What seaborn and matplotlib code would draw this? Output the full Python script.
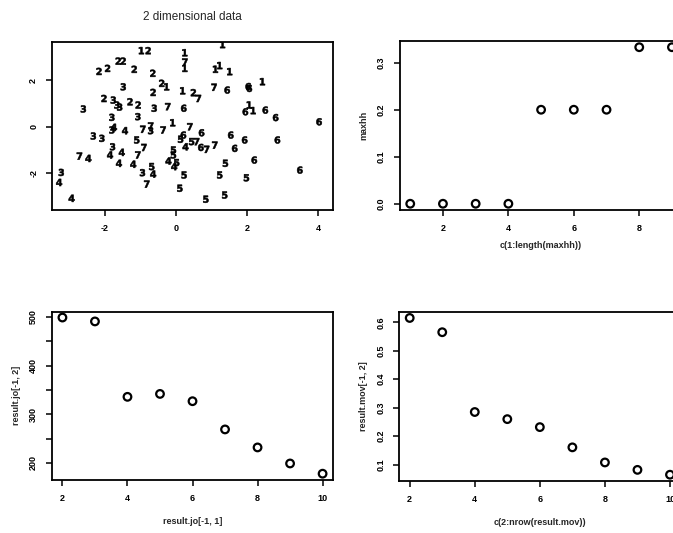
import numpy as np
import pandas as pd
import matplotlib
matplotlib.use("Agg")
import matplotlib.pyplot as plt
import seaborn as sns

# =========================
# DATA
# =========================

# 2 dimensional data: cluster labels drawn as text
lab_digit = ["1", "2", "1", "7", "1", "1", "1", "1", "1", "2", "2", "2", "2", "2", "2",
             "3", "2", "1", "2", "1", "2", "7", "7", "6", "6", "6", "1", "2", "3", "3",
             "3", "2", "2", "3", "3", "7", "6", "1", "6", "1", "6", "6", "6", "3", "3",
             "1", "3", "4", "4", "7", "3", "7", "7", "7", "6", "3", "3", "5", "7", "6",
             "5", "4", "5", "7", "6", "7", "7", "6", "6", "6", "6", "3", "4", "4", "7",
             "4", "7", "4", "4", "3", "5", "4", "7", "5", "5", "4", "5", "4", "5", "5",
             "5", "5", "5", "5", "5", "6", "6", "3", "4", "4"]
lab_x = [-0.97, -0.78, 0.25, 0.25, 0.25, 1.31, 1.11, 1.23, 1.51, -2.16, -1.92, -1.62, -1.48, -1.17, -0.65,
         -1.48, -0.40, -0.26, -0.64, 0.19, 0.49, 0.63, 1.07, 1.44, 2.03, 2.06, 2.43, -2.02, -1.76, -1.66,
         -1.58, -1.29, -1.06, -2.60, -0.61, -0.23, 0.22, 2.06, 1.95, 2.17, 2.51, 2.80, 4.02, -1.80, -1.07,
         -0.09, -1.80, -1.74, -1.43, -0.93, -0.71, -0.71, -0.36, 0.39, 0.72, -2.32, -2.08, -1.10, -0.90, 0.21,
         0.13, 0.27, 0.44, 0.58, 0.70, 0.86, 1.09, 1.54, 1.93, 2.85, 1.65, -1.78, -1.85, -1.52, -2.71,
         -2.46, -1.07, -1.60, -1.20, -0.94, -0.68, -0.64, -0.82, -0.07, -0.07, -0.21, 0.02, -0.05, 0.23, 0.11,
         0.84, 1.37, 1.23, 1.39, 1.98, 2.20, 3.48, -3.22, -3.28, -2.93]
lab_y = [3.26, 3.26, 3.17, 2.77, 2.50, 3.52, 2.46, 2.62, 2.36, 2.37, 2.50, 2.81, 2.81, 2.46, 2.29,
         1.71, 1.86, 1.71, 1.47, 1.54, 1.46, 1.21, 1.69, 1.57, 1.72, 1.64, 1.93, 1.21, 1.14, 0.93,
         0.84, 1.07, 0.93, 0.76, 0.79, 0.86, 0.79, 0.93, 0.64, 0.69, 0.71, 0.39, 0.21, 0.40, 0.43,
         0.17, -0.14, -0.03, -0.17, -0.11, -0.17, 0.03, -0.14, 0.00, -0.26, -0.40, -0.50, -0.57, -0.89, -0.36,
         -0.54, -0.86, -0.64, -0.64, -0.89, -0.97, -0.79, -0.36, -0.57, -0.57, -0.93, -0.86, -1.21, -1.10, -1.26,
         -1.36, -1.21, -1.57, -1.61, -1.97, -1.71, -2.03, -2.46, -1.00, -1.21, -1.47, -1.54, -1.71, -2.07, -2.64,
         -3.11, -2.93, -2.07, -1.57, -2.19, -1.43, -1.86, -1.96, -2.39, -3.07]

# maxhh
maxhh_x = [1, 2, 3, 4, 5, 6, 7, 8, 9]
maxhh = [0.0, 0.0, 0.0, 0.0, 0.2, 0.2, 0.2, 0.333, 0.333]

# result.jo
jo_x = [2, 3, 4, 5, 6, 7, 8, 9, 10]
jo_y = [499, 491, 336, 342, 327, 269, 232, 199, 178]

# result.mov
mov_x = [2, 3, 4, 5, 6, 7, 8, 9, 10]
mov_y = [0.615, 0.565, 0.285, 0.26, 0.232, 0.161, 0.108, 0.082, 0.065]

# =========================
# STYLE
# =========================

sns.set_style("ticks")
plt.rcParams["font.family"] = ["Liberation Sans", "DejaVu Sans"]
plt.rcParams["font.weight"] = "bold"
plt.rcParams["axes.labelweight"] = "bold"
plt.rcParams["axes.unicode_minus"] = False
plt.rcParams["axes.linewidth"] = 1.3
plt.rcParams["xtick.major.width"] = 1.1
plt.rcParams["ytick.major.width"] = 1.1
plt.rcParams["xtick.major.size"] = 4
plt.rcParams["ytick.major.size"] = 4
plt.rcParams["xtick.labelsize"] = 6.5
plt.rcParams["ytick.labelsize"] = 6.5
plt.rcParams["axes.labelsize"] = 6.5

fig = plt.figure(figsize=(6.73, 5.33), dpi=100)

ax1 = fig.add_axes([0.0773, 0.606, 0.4175, 0.3152])
ax2 = fig.add_axes([0.594, 0.606, 0.420, 0.3175])
ax3 = fig.add_axes([0.0773, 0.0994, 0.4175, 0.3158])
ax4 = fig.add_axes([0.5933, 0.0976, 0.4177, 0.3176])


def r_box(ax):
    for s in ax.spines.values():
        s.set_visible(True)
        s.set_color("black")
    ax.tick_params(direction="out", colors="black", pad=6)


def rot_y(ax):
    for t in ax.get_yticklabels():
        t.set_rotation(90)
        t.set_va("center")


# --- 2 dimensional data ---
df_lab = pd.DataFrame({"x": lab_x, "y": lab_y, "d": lab_digit})
sns.scatterplot(data=df_lab, x="x", y="y", style="d",
                markers={d: f"${d}$" for d in sorted(set(lab_digit))},
                color="black", s=26, linewidth=0.4, edgecolor="black",
                legend=False, ax=ax1)
ax1.set_xlim(-3.48, 4.41)
ax1.set_ylim(-3.57, 3.63)
ax1.set_xticks([-2, 0, 2, 4])
ax1.set_yticks([-2, 0, 2])
ax1.set_xlabel("")
ax1.set_ylabel("")
ax1.set_title("2 dimensional data", fontsize=8.5, fontweight="normal", pad=16)
r_box(ax1)
rot_y(ax1)

# --- maxhh ---
sns.scatterplot(x=maxhh_x, y=maxhh, marker="o", s=30, facecolor="none",
                edgecolor="black", linewidth=1.6, ax=ax2)
ax2.set_xlim(0.68, 9.32)
ax2.set_ylim(-0.0133, 0.3467)
ax2.set_xticks([2, 4, 6, 8])
ax2.set_yticks([0.0, 0.1, 0.2, 0.3])
ax2.set_yticklabels(["0.0", "0.1", "0.2", "0.3"])
ax2.set_xlabel("c(1:length(maxhh))", labelpad=6)
ax2.set_ylabel("maxhh", labelpad=6)
r_box(ax2)
rot_y(ax2)

# --- result.jo ---
sns.scatterplot(x=jo_x, y=jo_y, marker="o", s=30, facecolor="none",
                edgecolor="black", linewidth=1.6, ax=ax3)
ax3.set_xlim(1.68, 10.32)
ax3.set_ylim(165, 511)
ax3.set_xticks([2, 4, 6, 8, 10])
ax3.set_yticks([200, 250, 300, 350, 400, 450, 500])
ax3.set_yticklabels(["200", "", "300", "", "400", "", "500"])
ax3.set_xlabel("result.jo[-1, 1]", labelpad=10)
ax3.set_ylabel("result.jo[-1, 2]", labelpad=6)
r_box(ax3)
rot_y(ax3)

# --- result.mov ---
sns.scatterplot(x=mov_x, y=mov_y, marker="o", s=30, facecolor="none",
                edgecolor="black", linewidth=1.6, ax=ax4)
ax4.set_xlim(1.68, 10.32)
ax4.set_ylim(0.043, 0.637)
ax4.set_xticks([2, 4, 6, 8, 10])
ax4.set_yticks([0.1, 0.2, 0.3, 0.4, 0.5, 0.6])
ax4.set_xlabel("c(2:nrow(result.mov))", labelpad=10)
ax4.set_ylabel("result.mov[-1, 2]", labelpad=6)
r_box(ax4)
rot_y(ax4)

fig.savefig("out.png", dpi=100)
